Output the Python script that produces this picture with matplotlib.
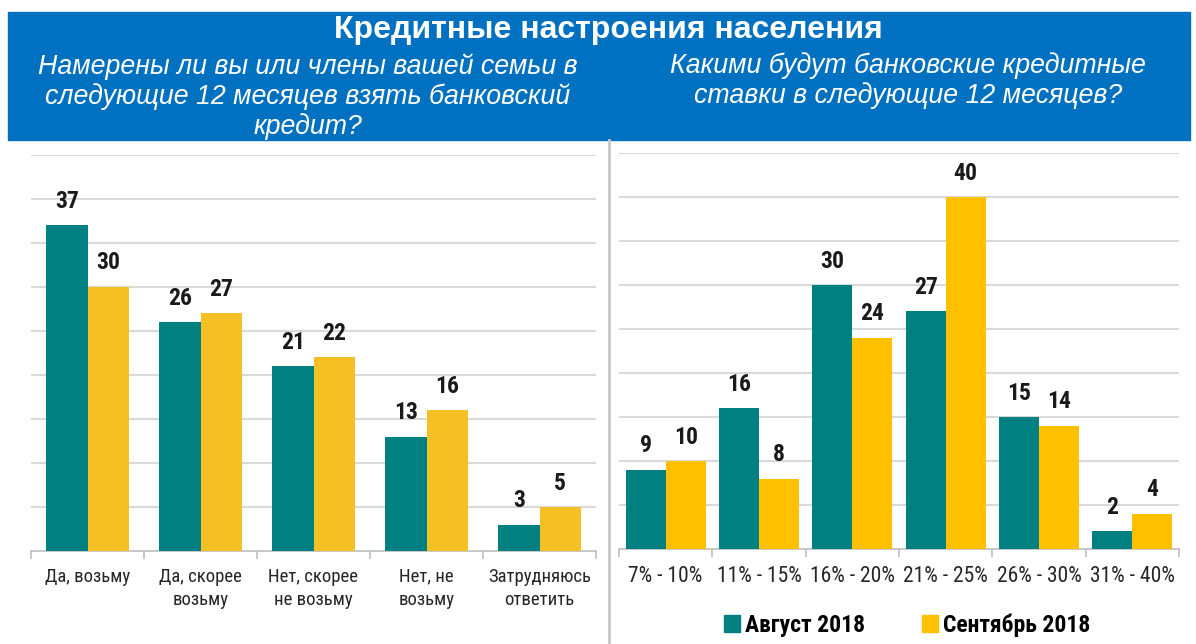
import matplotlib
matplotlib.use("Agg")
import matplotlib.pyplot as plt
from matplotlib import font_manager
from matplotlib.patches import Rectangle, Patch
import numpy as np

title = "Кредитные настроения населения"
left_question = "Намерены ли вы или члены вашей семьи в\nследующие 12 месяцев взять банковский\nкредит?"
right_question = "Какими будут банковские кредитные\nставки в следующие 12 месяцев?"

left_cats = ["Да, возьму", "Да, скорее\nвозьму", "Нет, скорее\nне возьму", "Нет, не\nвозьму", "Затрудняюсь\nответить"]
left_aug = [37, 26, 21, 13, 3]
left_sep = [30, 27, 22, 16, 5]

right_cats = ["7% - 10%", "11% - 15%", "16% - 20%", "21% - 25%", "26% - 30%", "31% - 40%"]
right_aug = [9, 16, 30, 27, 15, 2]
right_sep = [10, 8, 24, 40, 14, 4]

series_names = ["Август 2018", "Сентябрь 2018"]

TEAL = "#008080"
YELLOW_L = "#F5C023"
YELLOW_R = "#FFC000"
BLUE = "#0070C0"

names = {f.name for f in font_manager.fontManager.ttflist}
narrow = next((n for n in ["Liberation Sans Narrow", "DejaVu Sans Condensed", "Roboto Condensed"]
               if n in names), "Liberation Sans")
plt.rcParams["font.family"] = [narrow, "DejaVu Sans"]
HEAD = ["Liberation Sans", "DejaVu Sans"]


def draw_panel(ax, cats, aug, sep, width, ycol, tick_size):
    x = np.arange(len(cats))
    b1 = ax.bar(x - width / 2, aug, width, color=TEAL, zorder=3)
    b2 = ax.bar(x + width / 2, sep, width, color=ycol, zorder=3)
    for bars in (b1, b2):
        for r in bars:
            ax.annotate(f"{r.get_height():g}", (r.get_x() + r.get_width() / 2, r.get_height()),
                        xytext=(0, 9), textcoords="offset points", ha="center", va="bottom",
                        fontsize=17, fontweight="bold", color="#1a1a1a")
    ax.set_xlim(-0.5, len(cats) - 0.5)
    ax.set_ylim(0, 45)
    ax.set_yticks(np.arange(5, 46, 5))
    ax.yaxis.grid(True, color="#d9d9d9", linewidth=1.5, zorder=0)
    ax.tick_params(axis="y", left=False, labelleft=False)
    ax.set_xticks(x)
    ax.set_xticklabels(cats, fontsize=tick_size, color="#262626", linespacing=1.35)
    ax.tick_params(axis="x", length=0, pad=12)
    ax.set_xticks(np.arange(len(cats) + 1) - 0.5, minor=True)
    ax.tick_params(axis="x", which="minor", length=6, color="#bfbfbf", width=1.2)
    for s in ("top", "right", "left"):
        ax.spines[s].set_visible(False)
    ax.spines["bottom"].set_color("#bfbfbf")
    ax.spines["bottom"].set_linewidth(1.2)
    ax.set_axisbelow(True)
    return b1, b2


fig = plt.figure(figsize=(11.96, 6.44), dpi=100)

# header band
fig.patches.append(Rectangle((8 / 1196, 1 - 140 / 644), 1182 / 1196, 128 / 644,
                             transform=fig.transFigure, color=BLUE, zorder=0))
fig.text(608 / 1196, 1 - 30 / 644, title, ha="center", va="center", color="white",
         fontsize=23, fontweight="bold", family=HEAD)
fig.text(308 / 1196, 1 - 97 / 644, left_question, ha="center", va="center", color="white",
         fontsize=19.3, style="italic", linespacing=1.15, family=HEAD)
fig.text(908 / 1196, 1 - 81 / 644, right_question, ha="center", va="center", color="white",
         fontsize=19.3, style="italic", linespacing=1.15, family=HEAD)

# separator
fig.add_artist(plt.Line2D([609 / 1196, 609 / 1196], [0, 1 - 140 / 644], transform=fig.transFigure,
                          color="#c8c8c8", linewidth=2))

ax1 = fig.add_axes([31 / 1196, 1 - 551 / 644, 565 / 1196, 396 / 644])
ax2 = fig.add_axes([619 / 1196, 1 - 549 / 644, 560 / 1196, 396 / 644])

draw_panel(ax1, left_cats, left_aug, left_sep, 0.363, YELLOW_L, 13.5)
draw_panel(ax2, right_cats, right_aug, right_sep, 0.43, YELLOW_R, 15.5)

handles = [Patch(color=TEAL), Patch(color=YELLOW_R)]
fig.legend(handles, series_names, loc="center", bbox_to_anchor=(907 / 1196, 1 - 625 / 644),
           ncol=2, frameon=False, prop={"size": 17, "weight": "bold"},
           handlelength=0.7, handleheight=0.7, handletextpad=0.2, columnspacing=2.4)

fig.savefig("out.png", dpi=100)
